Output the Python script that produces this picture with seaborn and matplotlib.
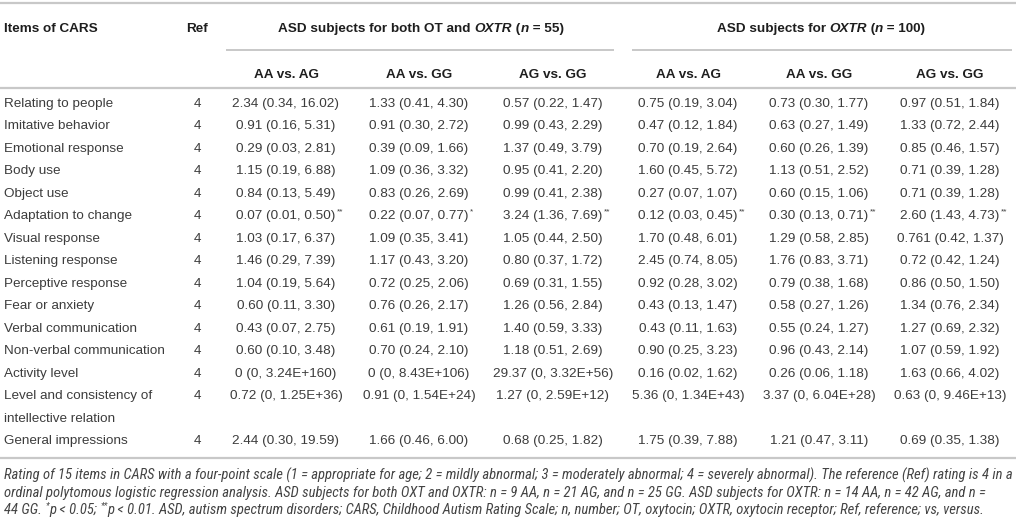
import matplotlib
matplotlib.use("Agg")
import matplotlib.pyplot as plt
from matplotlib import font_manager
import seaborn as sns

# table content
items = ["Relating to people", "Imitative behavior", "Emotional response", "Body use",
         "Object use", "Adaptation to change", "Visual response", "Listening response",
         "Perceptive response", "Fear or anxiety", "Verbal communication",
         "Non-verbal communication", "Activity level",
         "Level and consistency of\nintellective relation", "General impressions"]
ref = ["4"] * 15

both_aa_ag = ["2.34 (0.34, 16.02)", "0.91 (0.16, 5.31)", "0.29 (0.03, 2.81)", "1.15 (0.19, 6.88)",
              "0.84 (0.13, 5.49)", "0.07 (0.01, 0.50)", "1.03 (0.17, 6.37)", "1.46 (0.29, 7.39)",
              "1.04 (0.19, 5.64)", "0.60 (0.11, 3.30)", "0.43 (0.07, 2.75)", "0.60 (0.10, 3.48)",
              "0 (0, 3.24E+160)", "0.72 (0, 1.25E+36)", "2.44 (0.30, 19.59)"]
both_aa_gg = ["1.33 (0.41, 4.30)", "0.91 (0.30, 2.72)", "0.39 (0.09, 1.66)", "1.09 (0.36, 3.32)",
              "0.83 (0.26, 2.69)", "0.22 (0.07, 0.77)", "1.09 (0.35, 3.41)", "1.17 (0.43, 3.20)",
              "0.72 (0.25, 2.06)", "0.76 (0.26, 2.17)", "0.61 (0.19, 1.91)", "0.70 (0.24, 2.10)",
              "0 (0, 8.43E+106)", "0.91 (0, 1.54E+24)", "1.66 (0.46, 6.00)"]
both_ag_gg = ["0.57 (0.22, 1.47)", "0.99 (0.43, 2.29)", "1.37 (0.49, 3.79)", "0.95 (0.41, 2.20)",
              "0.99 (0.41, 2.38)", "3.24 (1.36, 7.69)", "1.05 (0.44, 2.50)", "0.80 (0.37, 1.72)",
              "0.69 (0.31, 1.55)", "1.26 (0.56, 2.84)", "1.40 (0.59, 3.33)", "1.18 (0.51, 2.69)",
              "29.37 (0, 3.32E+56)", "1.27 (0, 2.59E+12)", "0.68 (0.25, 1.82)"]
oxtr_aa_ag = ["0.75 (0.19, 3.04)", "0.47 (0.12, 1.84)", "0.70 (0.19, 2.64)", "1.60 (0.45, 5.72)",
              "0.27 (0.07, 1.07)", "0.12 (0.03, 0.45)", "1.70 (0.48, 6.01)", "2.45 (0.74, 8.05)",
              "0.92 (0.28, 3.02)", "0.43 (0.13, 1.47)", "0.43 (0.11, 1.63)", "0.90 (0.25, 3.23)",
              "0.16 (0.02, 1.62)", "5.36 (0, 1.34E+43)", "1.75 (0.39, 7.88)"]
oxtr_aa_gg = ["0.73 (0.30, 1.77)", "0.63 (0.27, 1.49)", "0.60 (0.26, 1.39)", "1.13 (0.51, 2.52)",
              "0.60 (0.15, 1.06)", "0.30 (0.13, 0.71)", "1.29 (0.58, 2.85)", "1.76 (0.83, 3.71)",
              "0.79 (0.38, 1.68)", "0.58 (0.27, 1.26)", "0.55 (0.24, 1.27)", "0.96 (0.43, 2.14)",
              "0.26 (0.06, 1.18)", "3.37 (0, 6.04E+28)", "1.21 (0.47, 3.11)"]
oxtr_ag_gg = ["0.97 (0.51, 1.84)", "1.33 (0.72, 2.44)", "0.85 (0.46, 1.57)", "0.71 (0.39, 1.28)",
              "0.71 (0.39, 1.28)", "2.60 (1.43, 4.73)", "0.761 (0.42, 1.37)", "0.72 (0.42, 1.24)",
              "0.86 (0.50, 1.50)", "1.34 (0.76, 2.34)", "1.27 (0.69, 2.32)", "1.07 (0.59, 1.92)",
              "1.63 (0.66, 4.02)", "0.63 (0, 9.46E+13)", "0.69 (0.35, 1.38)"]

# significance marks (row index -> mark) per column
sig_both = [{5: "**"}, {5: "*"}, {5: "**"}]
sig_oxtr = [{5: "**"}, {5: "**"}, {5: "**"}]

sub_headers = ["AA vs. AG", "AA vs. GG", "AG vs. GG"]

# footnote lines as (text, kind) runs; kind "sup" is a superscript
footnote = [
    [("Rating of 15 items in CARS with a four-point scale (1 = appropriate for age; 2 = mildly abnormal; "
      "3 = moderately abnormal; 4 = severely abnormal). The reference (Ref) rating is 4 in a", "")],
    [("ordinal polytomous logistic regression analysis. ASD subjects for both OXT and OXTR: n = 9 AA, "
      "n = 21 AG, and n = 25 GG. ASD subjects for OXTR: n = 14 AA, n = 42 AG, and n =", "")],
    [("44 GG. ", ""), ("*", "sup"), ("p < 0.05; ", ""), ("**", "sup"),
     ("p < 0.01. ASD, autism spectrum disorders; CARS, Childhood Autism Rating Scale; n, number; "
      "OT, oxytocin; OXTR, oxytocin receptor; Ref, reference; vs, versus.", "")],
]

sns.set_theme(style="white")
plt.rcParams["font.family"] = ["Liberation Sans", "DejaVu Sans"]

installed = {f.name for f in font_manager.fontManager.ttflist}
note_family = "Liberation Sans"
for cand in ["Liberation Sans Narrow", "Roboto Condensed", "Open Sans Condensed", "DejaVu Sans Condensed"]:
    if cand in installed:
        note_family = cand
        break

W, H = 1016, 518
fig = plt.figure(figsize=(W / 100, H / 100), dpi=100)
ax = fig.add_axes([0, 0, 1, 1])
ax.set_xlim(0, W)
ax.set_ylim(H, 0)
ax.axis("off")
renderer = fig.canvas.get_renderer()

body_color = "#3c3c3c"
head_color = "#1e1e1e"
rule_color = "#c8c8c8"
fs = 9.7
drop = fs * 100 / 72 * 0.36   # centre -> baseline offset in pixels


def width_of(s, **kw):
    t = ax.text(0, 0, "|" + s + "|", **kw)
    w = t.get_window_extent(renderer).width
    t.remove()
    t = ax.text(0, 0, "||", **kw)
    w0 = t.get_window_extent(renderer).width
    t.remove()
    return w - w0


def draw_runs(x, y, runs, ha="center", size=fs, color=head_color, weight="normal", family=None,
              base_style="normal"):
    kws = []
    for s, kind in runs:
        kw = dict(fontsize=size, color=color, weight=weight, style=base_style)
        if family:
            kw["family"] = family
        if kind == "it":
            kw["style"] = "italic"
        if kind == "sup":
            kw["fontsize"] = size * 0.6
        kws.append(kw)
    widths = [width_of(s, **kw) for (s, _), kw in zip(runs, kws)]
    x0 = x - sum(widths) / 2 if ha == "center" else x
    for (s, kind), kw, w in zip(runs, kws, widths):
        yy = y - size * 0.6 if kind == "sup" else y
        ax.text(x0, yy, s, ha="left", va="baseline", **kw)
        x0 += w


# column layout
col_x = [286, 419, 553, 688, 819, 950]
ref_x = 197
item_x = 4
row_y0 = 102
row_step = 22.5

# rules
ax.hlines(3, 0, W, color=rule_color, lw=1.6)
ax.hlines(50, 226, 614, color=rule_color, lw=1.4)
ax.hlines(50, 632, 1012, color=rule_color, lw=1.4)
ax.hlines(88, 0, W, color=rule_color, lw=1.6)
ax.hlines(458, 0, W, color=rule_color, lw=1.6)

# headers
hy = 27 + drop
ax.text(item_x, hy, "Items of CARS", ha="left", va="baseline", fontsize=fs, weight="bold", color=head_color)
ax.text(ref_x, hy, "Ref", ha="center", va="baseline", fontsize=fs, weight="bold", color=head_color)
draw_runs(421, hy, [("ASD subjects for both OT and ", ""), ("OXTR", "it"), (" (", ""), ("n", "it"),
                    (" = 55)", "")], weight="bold")
draw_runs(821, hy, [("ASD subjects for ", ""), ("OXTR", "it"), (" (", ""), ("n", "it"),
                    (" = 100)", "")], weight="bold")
for k in range(6):
    ax.text(col_x[k], 73 + drop, sub_headers[k % 3], ha="center", va="baseline", fontsize=fs,
            weight="bold", color=head_color)

# body
columns = [both_aa_ag, both_aa_gg, both_ag_gg, oxtr_aa_ag, oxtr_aa_gg, oxtr_ag_gg]
sigs = sig_both + sig_oxtr
line_idx = 0
for i, name in enumerate(items):
    y = row_y0 + row_step * line_idx + drop
    lines = name.split("\n")
    for j, ln in enumerate(lines):
        ax.text(item_x, y + j * row_step, ln, ha="left", va="baseline", fontsize=fs, color=body_color)
    ax.text(ref_x, y, ref[i], ha="center", va="baseline", fontsize=fs, color=body_color)
    for k, col in enumerate(columns):
        ax.text(col_x[k], y, col[i], ha="center", va="baseline", fontsize=fs, color=body_color)
        mark = sigs[k].get(i)
        if mark:
            w = width_of(col[i], fontsize=fs)
            ax.text(col_x[k] + w / 2 + 1, y - 6, mark, ha="left", va="baseline", fontsize=fs * 0.6,
                    color=body_color)
    line_idx += len(lines)

# footnote, sized so the first line spans the table width
note_size = 9.0
w1 = width_of(footnote[0][0][0], fontsize=note_size, family=note_family, style="italic")
note_size = min(note_size * 1006 / w1, 10.5)
for j, runs in enumerate(footnote):
    draw_runs(4, 480 + j * 17, runs, ha="left", size=note_size, color="#444444", family=note_family,
              base_style="italic")

fig.savefig("out.png", dpi=100)
